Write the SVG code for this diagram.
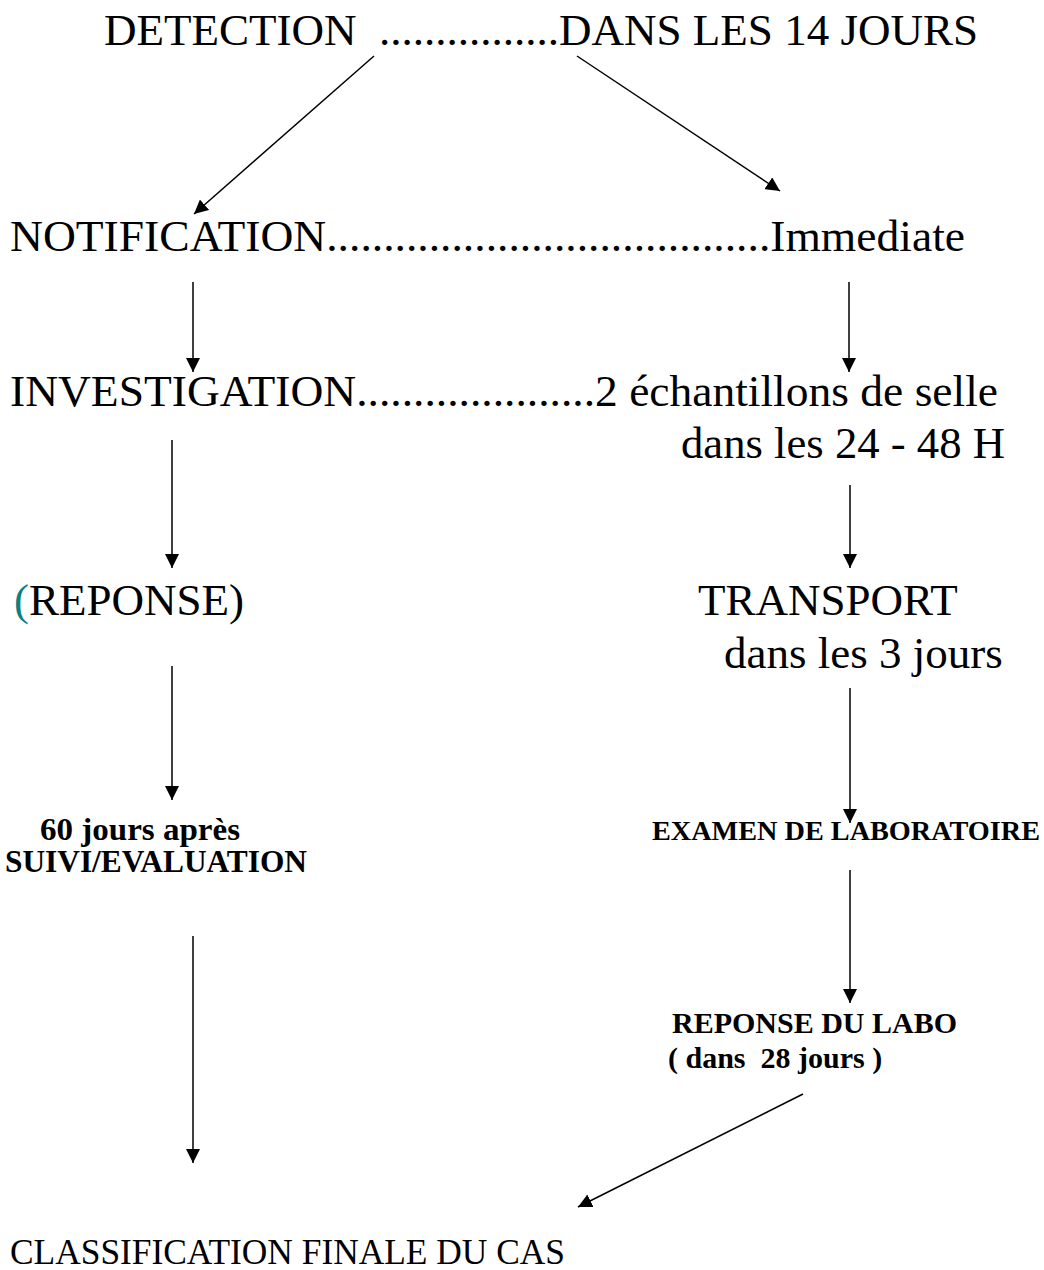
<svg xmlns="http://www.w3.org/2000/svg" width="1044" height="1270" viewBox="0 0 1044 1270">
<style>
.t{font-family:"Liberation Serif","Times New Roman",serif;fill:#000;white-space:pre}
.big{font-size:45px}
.b{font-size:30px;font-weight:bold}
.ln{stroke:#000;stroke-width:1.5;fill:none;marker-end:url(#ah)}
</style>
<defs>
<marker id="ah" viewBox="0 0 14 14" refX="14" refY="7" markerWidth="14" markerHeight="14" markerUnits="userSpaceOnUse" orient="auto">
<path d="M0,0 L14,7 L0,14 Z" fill="#000"/>
</marker>
</defs>
<rect width="1044" height="1270" fill="#fff"/>
<g id="n-detection"><text class="t" x="104" y="45" font-size="44" textLength="874" lengthAdjust="spacingAndGlyphs">DETECTION  ................DANS LES 14 JOURS</text></g>
<g id="n-notification"><text class="t big" x="10" y="251" textLength="955" lengthAdjust="spacingAndGlyphs">NOTIFICATION.......................................Immediate</text></g>
<g id="n-investigation"><text class="t big" x="10" y="406" textLength="988" lengthAdjust="spacingAndGlyphs">INVESTIGATION.....................2 échantillons de selle</text>
<text class="t big" x="681" y="458" textLength="324" lengthAdjust="spacingAndGlyphs">dans les 24 - 48 H</text></g>
<g id="n-reponse"><text class="t big" x="14" y="615"><tspan fill="#0f7f7f">(</tspan>REPONSE)</text></g>
<g id="n-transport"><text class="t big" x="698" y="615">TRANSPORT</text>
<text class="t big" x="724" y="668">dans les 3 jours</text></g>
<g id="n-suivi"><text class="t b" x="40" y="840" style="font-size:31px" textLength="200" lengthAdjust="spacingAndGlyphs">60 jours après</text>
<text class="t b" x="5" y="872" style="font-size:31px" textLength="302" lengthAdjust="spacingAndGlyphs">SUIVI/EVALUATION</text></g>
<g id="n-examen"><text class="t b" x="652" y="840" style="font-size:28px" textLength="388" lengthAdjust="spacingAndGlyphs">EXAMEN DE LABORATOIRE</text></g>
<g id="n-labo"><text class="t b" x="672" y="1033">REPONSE DU LABO</text>
<text class="t b" x="668" y="1068">( dans  28 jours )</text></g>
<g id="n-classification"><text class="t" x="10" y="1264" font-size="35" textLength="555" lengthAdjust="spacingAndGlyphs">CLASSIFICATION FINALE DU CAS</text></g>
<g id="connectors">
<line class="ln" x1="374" y1="56" x2="194" y2="214"/>
<line class="ln" x1="577" y1="56" x2="780" y2="191"/>
<line class="ln" x1="193" y1="282" x2="193" y2="372"/>
<line class="ln" x1="849" y1="282" x2="849" y2="372"/>
<line class="ln" x1="172" y1="440" x2="172" y2="568"/>
<line class="ln" x1="850" y1="485" x2="850" y2="568"/>
<line class="ln" x1="172" y1="666" x2="172" y2="800"/>
<line class="ln" x1="850" y1="688" x2="850" y2="823"/>
<line class="ln" x1="850" y1="870" x2="850" y2="1003"/>
<line class="ln" x1="193" y1="936" x2="193" y2="1163"/>
<line class="ln" x1="803" y1="1094" x2="578" y2="1207"/>
</g>
</svg>
